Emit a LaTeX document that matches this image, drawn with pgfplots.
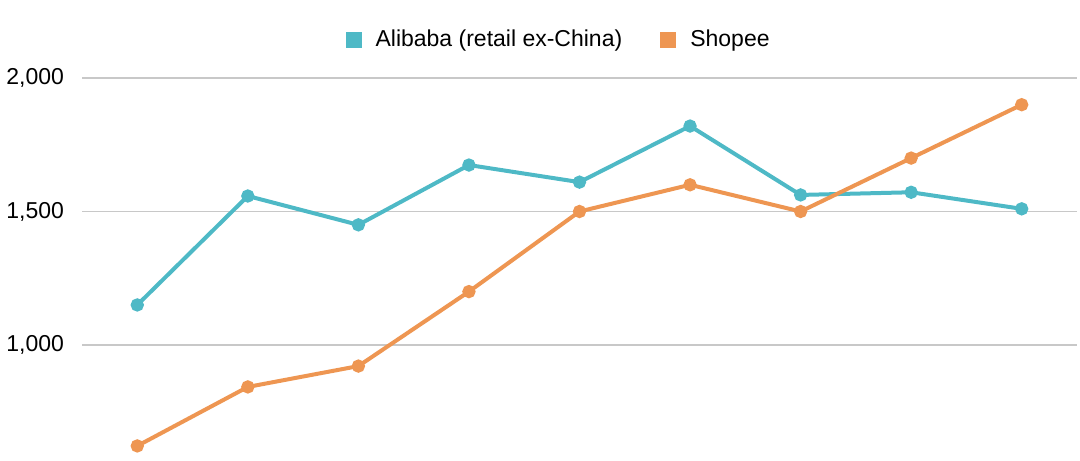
\documentclass[border=0pt]{standalone}
\usepackage{pgfplots}
\pgfplotsset{compat=1.18}
\usepackage{fontspec}
\setmainfont{Liberation Sans}
\definecolor{alibaba}{RGB}{78,185,198}
\definecolor{shopee}{RGB}{238,150,82}
\definecolor{gridgray}{RGB}{200,200,200}
\begin{document}
\begin{tikzpicture}
\useasboundingbox (0,0) rectangle (540pt,230pt);
\begin{axis}[
  at={(41pt,-9.25pt)}, anchor=south west,
  scale only axis,
  width=497.5pt, height=200.25pt,
  xmin=-0.5, xmax=8.5,
  ymin=500, ymax=2000,
  axis lines=none,
  clip=false,
  xtick=\empty,
  ytick=\empty,
  legend columns=2,
  legend style={at={(0.48,1.095)}, anchor=center, draw=none, fill=none,
    font=\fontsize{11.5}{13}\selectfont,
    /tikz/every even column/.append style={column sep=17pt}},
]
\pgfplotsinvokeforeach{1000,1500,2000}{
  \draw[gridgray, line width=0.6pt] (axis cs:-0.5,#1) -- (axis cs:8.5,#1);
  \node[anchor=east, font=\fontsize{11.5}{13}\selectfont, inner sep=0pt] at (axis cs:-0.66,#1) {\pgfmathprintnumber[1000 sep={,}, assume math mode=true]{#1}};
}
\addplot[color=alibaba, line width=2pt, mark=*, mark size=2.3pt,
  legend image code/.code={\fill[alibaba] (0pt,-3pt) rectangle (6pt,3pt); \path (11pt,0pt);}]
  coordinates {(0,1150) (1,1558) (2,1450) (3,1674) (4,1610) (5,1820) (6,1562) (7,1572) (8,1510)};
\addlegendentry{Alibaba (retail ex-China)}
\addplot[color=shopee, line width=2pt, mark=*, mark size=2.3pt,
  legend image code/.code={\fill[shopee] (0pt,-3pt) rectangle (6pt,3pt); \path (11pt,0pt);}]
  coordinates {(0,622) (1,843) (2,921) (3,1200) (4,1500) (5,1600) (6,1500) (7,1700) (8,1900)};
\addlegendentry{Shopee}
\end{axis}
\end{tikzpicture}
\end{document}
